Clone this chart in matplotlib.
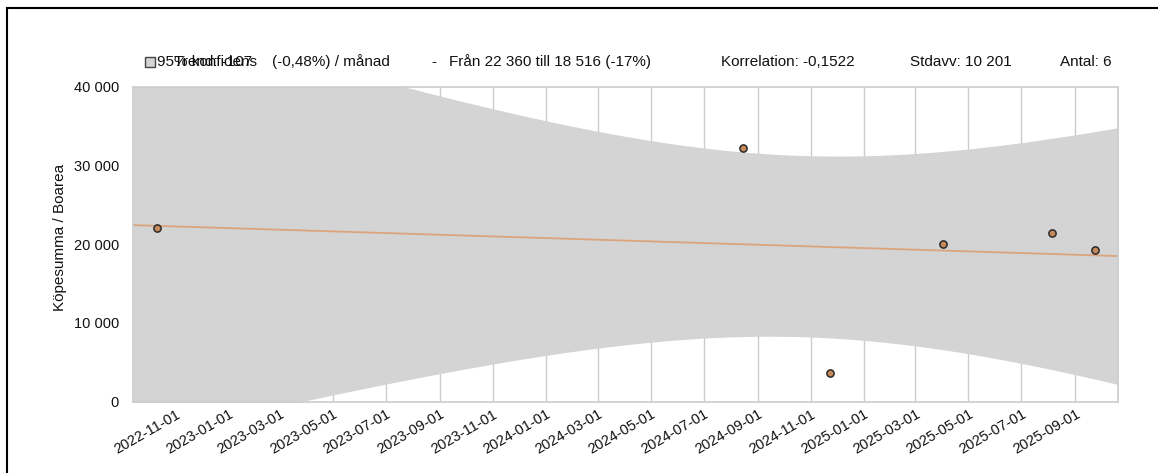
import numpy as np
import matplotlib
matplotlib.use("Agg")
import matplotlib.pyplot as plt
import matplotlib.dates as mdates
from matplotlib.patches import Rectangle
from matplotlib.ticker import FuncFormatter

plt.rcParams['font.family'] = ['Liberation Sans', 'DejaVu Sans']

# ---- data ----
dates = np.array(['2022-10-11', '2024-08-15', '2024-11-23', '2025-04-02',
                  '2025-08-05', '2025-09-24'], dtype='datetime64[D]')
values = np.array([22000, 32200, 3650, 20000, 21400, 19200], dtype=float)
tick_dates = np.array(['2022-11-01', '2023-01-01', '2023-03-01', '2023-05-01',
                       '2023-07-01', '2023-09-01', '2023-11-01', '2024-01-01',
                       '2024-03-01', '2024-05-01', '2024-07-01', '2024-09-01',
                       '2024-11-01', '2025-01-01', '2025-03-01', '2025-05-01',
                       '2025-07-01', '2025-09-01'], dtype='datetime64[D]')
x_limits = np.array(['2022-09-13', '2025-10-20'], dtype='datetime64[D]')
y_ticks = [0, 10000, 20000, 30000, 40000]
t_crit = 2.7764  # t(0.975, df=4)

legend_band = "95% konfidens"
info_trend = "Trend: -107"
info_pct = "(-0,48%) / månad"
info_dash = "-"
info_from = "Från 22 360 till 18 516 (-17%)"
info_corr = "Korrelation: -0,1522"
info_std = "Stdavv: 10 201"
info_n = "Antal: 6"
ylabel = "Köpesumma / Boarea"

# ---- regression + confidence band ----
xnum = mdates.date2num(dates.astype('datetime64[s]').astype(object))
n = len(xnum)
slope, intercept = np.polyfit(xnum, values, 1)
resid = values - (slope * xnum + intercept)
s = np.sqrt(np.sum(resid ** 2) / (n - 2))
xm = xnum.mean()
sxx = np.sum((xnum - xm) ** 2)
xl = mdates.date2num(x_limits.astype('datetime64[s]').astype(object))
xg = np.linspace(xl[0], xl[1], 400)
yg = slope * xg + intercept
hw = t_crit * s * np.sqrt(1.0 / n + (xg - xm) ** 2 / sxx)

W, H = 1158, 473
fig = plt.figure(figsize=(W / 100, H / 100), dpi=100)
ax = fig.add_axes([133 / W, 1 - 401.5 / H, (1118 - 133) / W, (401.5 - 86.8) / H])

ax.fill_between(xg, yg - hw, yg + hw, color='#d4d4d4', lw=0, zorder=1)
ax.plot(xg, yg, color='#dba47c', lw=1.3, zorder=2)
ax.plot(xnum, values, 'o', ms=5.2, mfc='#c8895a', mec='#2a2a2a', mew=1.1, zorder=3)

ax.set_xlim(xl[0], xl[1])
ax.set_ylim(0, 40000)
tnum = mdates.date2num(tick_dates.astype('datetime64[s]').astype(object))
ax.set_xticks(tnum)
ax.set_xticklabels([str(d) for d in tick_dates], rotation=30, ha='right',
                   rotation_mode='anchor', fontsize=10.5, color='#111111')
ax.set_yticks(y_ticks)
ax.yaxis.set_major_formatter(FuncFormatter(lambda v, p: f"{int(v):,}".replace(',', ' ')))
ax.tick_params(axis='y', length=0, labelsize=10.5, pad=10, colors='#111111')
ax.tick_params(axis='x', length=0, pad=4)
ax.set_axisbelow(True)
ax.grid(axis='x', color='#cccccc', lw=1)
ax.grid(axis='y', visible=False)
for sp in ax.spines.values():
    sp.set_color('#cccccc')
    sp.set_linewidth(1.2)
ax.set_ylabel(ylabel, fontsize=11, color='#111111')
ax.yaxis.set_label_coords((67 - 133) / (1118 - 133), 0.52)

# ---- header texts ----
ty = 1 - 62 / H
fig.patches.append(Rectangle((145 / W, 1 - 67.5 / H), 10 / W, 10 / H,
                             transform=fig.transFigure, facecolor='#d4d4d4',
                             edgecolor='#444444', lw=1))
kw = dict(fontsize=11, color='#111111', va='center', transform=fig.transFigure)
fig.text(157 / W, ty, legend_band, **kw)
fig.text(174 / W, ty, info_trend, **kw)
fig.text(272 / W, ty, info_pct, **kw)
fig.text(431 / W, ty, info_dash, **kw)
fig.text(449 / W, ty, info_from, **kw)
fig.text(721 / W, ty, info_corr, **kw)
fig.text(910 / W, ty, info_std, **kw)
fig.text(1060 / W, ty, info_n, **kw)

# outer frame (left and top edges visible)
fig.patches.append(Rectangle((7.5 / W, -0.2), 1.5, (H - 8.5) / H + 0.2,
                             transform=fig.transFigure, fill=False,
                             edgecolor='black', lw=1.5, clip_on=False))

fig.savefig('out.png', dpi=100)
